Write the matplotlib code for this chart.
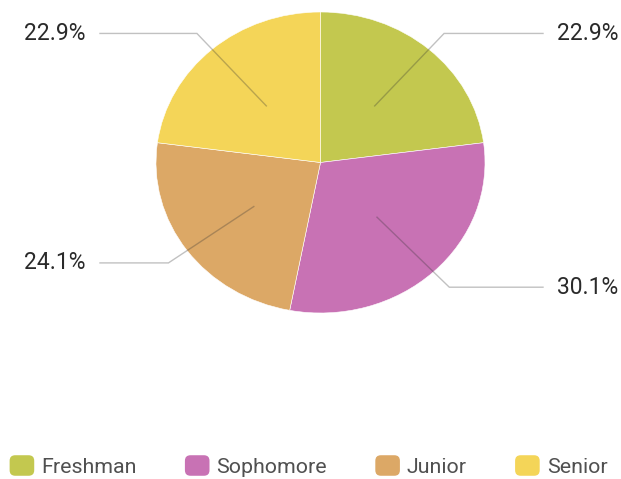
import numpy as np
import matplotlib
matplotlib.use("Agg")
import matplotlib.pyplot as plt
from matplotlib.patches import FancyBboxPatch
from matplotlib.legend_handler import HandlerPatch

# Class distribution by year (percent)
categories = ["Freshman", "Sophomore", "Junior", "Senior"]
shares = [22.9, 30.1, 24.1, 22.9]
colors = ["#c3c84f", "#c872b4", "#dca866", "#f4d558"]

plt.rcParams["font.family"] = ["Roboto", "DejaVu Sans"]

W, H = 621, 479
fig = plt.figure(figsize=(W / 100, H / 100), dpi=100)
ax = fig.add_axes([0, 0, 1, 1])

# pie centre and radii in pixels (slightly elliptical)
cx, cy, rx, ry = 320.5, 162.5, 164.5, 150.5

wedges, _ = ax.pie(shares, colors=colors, startangle=90, counterclock=False,
                   radius=1, center=(0, 0),
                   wedgeprops=dict(edgecolor="white", linewidth=0.4))
ax.set_aspect("auto")
ax.set_xlim(-cx / rx, (W - cx) / rx)
ax.set_ylim(-(H - cy) / ry, cy / ry)
ax.axis("off")

# leader lines and percentage labels
total = sum(shares)
start = 90.0
for w, v in zip(wedges, shares):
    span = 360.0 * v / total
    mid = np.deg2rad(start - span / 2)
    start -= span
    x0, y0 = 0.5 * np.cos(mid), 0.5 * np.sin(mid)
    x1, y1 = 1.14 * np.cos(mid), 1.14 * np.sin(mid)
    if x1 >= 0:
        x2 = (543 - cx) / rx
        tx, ha = (557 - cx) / rx, "left"
    else:
        x2 = (100 - cx) / rx
        tx, ha = (85 - cx) / rx, "right"
    ax.plot([x0, x1, x2], [y0, y1, y1], color="#333333", alpha=0.3,
            linewidth=1.0, solid_joinstyle="miter")
    ax.text(tx, y1, f"{v:.1f}%", ha=ha, va="center", fontsize=16.5,
            color="#2a2a2a")


class RoundSquare(HandlerPatch):
    def create_artists(self, legend, orig_handle, xdescent, ydescent,
                       width, height, fontsize, trans):
        p = FancyBboxPatch((-xdescent + 3, -ydescent + 3), width - 6, height - 6,
                           boxstyle="round,pad=3,rounding_size=4",
                           facecolor=orig_handle.get_facecolor(),
                           edgecolor="none", transform=trans)
        return [p]


handles = [plt.Rectangle((0, 0), 1, 1, facecolor=c) for c in colors]
leg = fig.legend(handles, categories, loc="center", ncol=4,
                 bbox_to_anchor=(308.5 / W, 1 - 466 / H), frameon=False,
                 fontsize=15.4, handlelength=1.15, handleheight=1.1,
                 handletextpad=0.33, columnspacing=2.25,
                 handler_map={plt.Rectangle: RoundSquare()})
for t in leg.get_texts():
    t.set_color("#505050")

fig.savefig("out.png", dpi=100, facecolor="white")
